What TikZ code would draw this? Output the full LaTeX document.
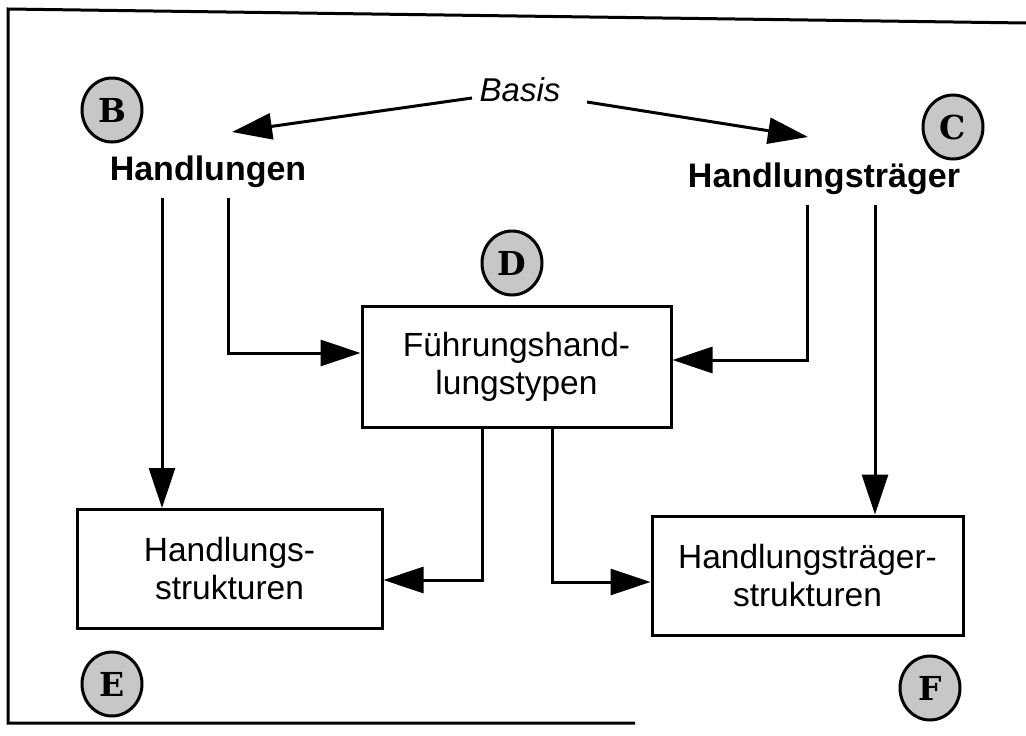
\documentclass[tikz,border=0pt]{standalone}
\usepackage{fontspec}
\setmainfont{Liberation Sans}
\newfontfamily\letterfont{DejaVu Serif}
\usetikzlibrary{arrows.meta,shapes.geometric}
\tikzset{
  conn/.style={line width=3pt,-{Triangle[length=40pt,width=26pt]}},
  boxnode/.style={draw,line width=3pt,inner sep=0pt,align=center,font=\fontsize{33.5}{38}\selectfont},
  title/.style={font=\fontsize{34}{40}\selectfont\bfseries,inner sep=0pt},
  marker/.style={ellipse,draw,line width=3pt,fill=black!22,minimum width=60pt,minimum height=64pt,inner sep=0pt,font=\letterfont\bfseries\fontsize{33}{33}\selectfont}
}
\begin{document}
\begin{tikzpicture}[x=1pt,y=-1pt]
\useasboundingbox (0,0) rectangle (1026,736);
% frame
\draw[line width=3pt] (1026,23) -- (8,9) -- (8,723) -- (635,723);
% markers
\node[marker] (mB) at (112,110) {B};
\node[marker] (mC) at (953,127) {C};
\node[marker] (mD) at (512,263) {D};
\node[marker] (mE) at (112,684) {E};
\node[marker] (mF) at (930,688) {F};
% titles
\node[font=\fontsize{33}{38}\selectfont\itshape,inner sep=0pt,anchor=base] (basis) at (520,101) {Basis};
\node[title,anchor=base] (hand) at (208,180) {Handlungen};
\node[title,anchor=base] (traeger) at (824,187) {Handlungsträger};
% boxes
\node[boxnode,minimum width=309pt,minimum height=121pt] (fht) at (516.5,367) {Führungshand-\\lungstypen};
\node[boxnode,minimum width=305pt,minimum height=119pt] (hs) at (229.5,569) {Handlungs-\\strukturen};
\node[boxnode,minimum width=311pt,minimum height=119pt] (hts) at (807.5,575.5) {Handlungsträger-\\strukturen};
% helper coordinates
\coordinate (tipB) at (232,132);
\coordinate (tipC) at (808,137);
\coordinate (sB) at (472,98);
\coordinate (sC) at (587,102);
% arrows from Basis
\draw[conn] (sB) -- (tipB);
\draw[conn] (sC) -- (tipC);
% Handlungen
\draw[conn] (162,198) -- (162,0 |- hs.north);
\draw[conn] (228,198) -- (228,353) -- (fht.west |- 0,353);
% Handlungstraeger
\draw[conn] (807,205) -- (807,360) -- (fht.east |- 0,360);
\draw[conn] (875,205) -- (875,0 |- hts.north);
% from centre box
\draw[conn] (482,0 |- fht.south) -- (482,580) -- (hs.east |- 0,580);
\draw[conn] (552,0 |- fht.south) -- (552,582) -- (hts.west |- 0,582);
\end{tikzpicture}
\end{document}
